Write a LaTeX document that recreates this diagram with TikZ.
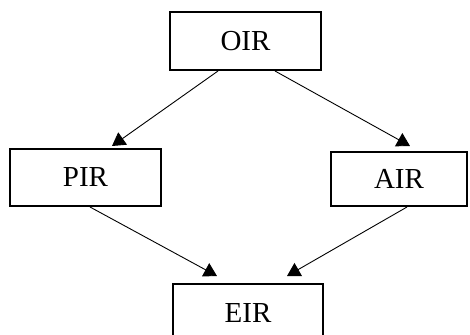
\documentclass[tikz,border=0pt]{standalone}
\usepackage{fontspec}
\setmainfont{Liberation Serif}
\usetikzlibrary{arrows.meta,calc}
\begin{document}
\begin{tikzpicture}[x=1pt,y=-1pt,
  irbox/.style={draw,line width=2pt,rectangle,inner sep=0pt,font=\fontsize{29}{31}\selectfont},
  link/.style={line width=0.9pt,-{Triangle[length=13pt,width=15pt]}}]
  \useasboundingbox (0,0) rectangle (470,334);
  \clip (0,0) rectangle (470,334);
  % the four boxes
  \node[irbox,minimum width=151pt,minimum height=58pt] (oir) at (245.5,41) {OIR};
  \node[irbox,minimum width=151pt,minimum height=57pt] (pir) at (85.5,177.5) {PIR};
  \node[irbox,minimum width=136pt,minimum height=54pt] (air) at (399,179) {AIR};
  \node[irbox,minimum width=150pt,minimum height=58pt] (eir) at (248,313) {EIR};
  % connectors
  \draw[link] ($(oir.south)+(-27.5,0)$) -- ($(pir.north)+(26.5,-2)$);
  \draw[link] ($(oir.south)+(29.5,0)$) -- ($(air.north)+(11,-5)$);
  \draw[link] ($(pir.south)+(4.5,0)$) -- ($(eir.north)+(-31,-7)$);
  \draw[link] ($(air.south)+(8,0)$) -- ($(eir.north)+(39,-7)$);
\end{tikzpicture}
\end{document}
